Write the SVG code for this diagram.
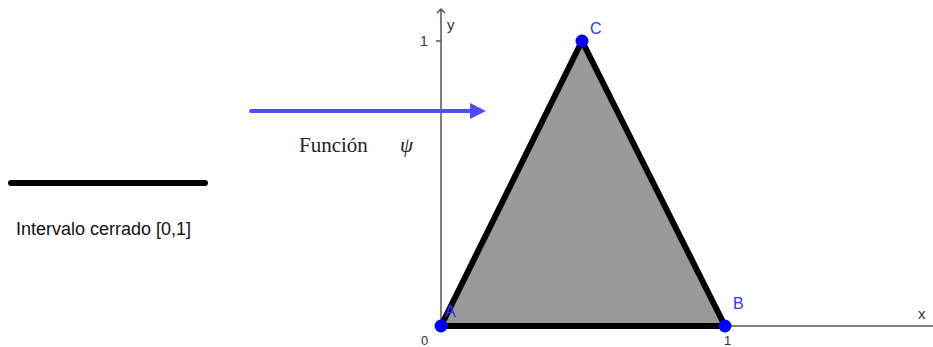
<svg xmlns="http://www.w3.org/2000/svg" width="933" height="347" viewBox="0 0 933 347">
<style>
.ax{stroke:#555;stroke-width:1.5;fill:none}
.lbl{font-family:"Liberation Sans",Arial,sans-serif;font-size:13px;fill:#333}
.pt{fill:#0000ff}
.ptl{font-family:"Liberation Sans",Arial,sans-serif;font-size:16px;fill:#3333ff}
.ser{font-family:"Liberation Serif","Times New Roman",serif;font-size:21px;fill:#222}
</style>
<defs>
<marker id="ah" viewBox="0 0 10 10" refX="0" refY="5" markerWidth="4" markerHeight="4" markerUnits="strokeWidth" orient="auto"><path d="M0,0 L10,5 L0,10 z" fill="#4d4dff"/></marker>
</defs>
<g id="axes">
<path class="ax" d="M441,326 V9 M437,13 L441,9 L445,13"/>
<path class="ax" d="M441,326 H933"/>
<path class="ax" d="M436,41 H441"/>
<path class="ax" d="M727,326 V331"/>
<text class="lbl" x="420" y="46" style="font-size:14px">1</text>
<text class="lbl" x="447" y="30" style="font-size:15px">y</text>
<text class="lbl" x="918" y="319" style="font-size:15px">x</text>
<text class="lbl" x="421" y="345">0</text>
<text class="lbl" x="724" y="345">1</text>
</g>
<g id="triangle">
<polygon points="441,326 725,326 582,41" fill="#999999" stroke="#000" stroke-width="6" stroke-linejoin="round"/>
</g>
<g id="pointA"><circle class="pt" cx="441" cy="326" r="6.5"/><text class="ptl" x="445" y="317">A</text></g>
<g id="pointB"><circle class="pt" cx="725" cy="326" r="6.5"/><text class="ptl" x="733" y="309">B</text></g>
<g id="pointC"><circle class="pt" cx="582" cy="41" r="6.5"/><text class="ptl" x="590" y="34">C</text></g>
<g id="interval">
<line x1="11" y1="183" x2="205" y2="183" stroke="#000" stroke-width="6" stroke-linecap="round"/>
<text x="16" y="235" style="font-family:'Liberation Sans',Arial,sans-serif;font-size:18px;fill:#111">Intervalo cerrado [0,1]</text>
</g>
<g id="connectors">
<line x1="251" y1="111" x2="470" y2="111" stroke="#4d4dff" stroke-width="4" stroke-linecap="round" marker-end="url(#ah)"/>
<text class="ser" x="299" y="152">Función</text>
<text class="ser" x="400" y="152" font-style="italic">ψ</text>
</g>
</svg>
